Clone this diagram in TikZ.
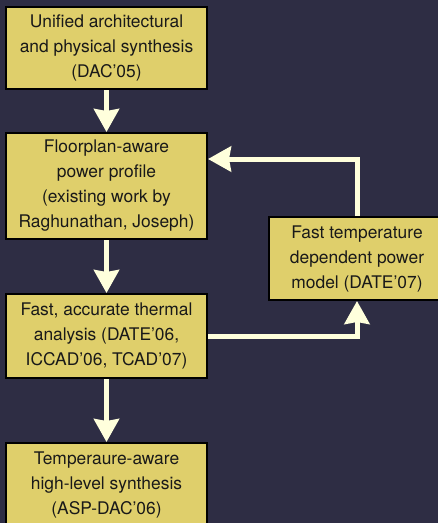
\documentclass[tikz,border=0pt]{standalone}
\usepackage{fontspec}
\setmainfont{TeX Gyre Heros}
\usetikzlibrary{arrows.meta}
\definecolor{bgnavy}{HTML}{2E2D44}
\definecolor{boxgold}{HTML}{DFCF6B}
\definecolor{flowcream}{HTML}{FFFFDC}
\tikzset{
  stage/.style={draw=black, line width=2pt, fill=boxgold, align=center,
    inner sep=0pt, font=\fontsize{17.4}{25}\selectfont, text=black!90},
  flow/.style={draw=flowcream, line width=5pt,
    -{Stealth[length=23pt, width=25pt, inset=2pt]}},
}
\begin{document}
\begin{tikzpicture}[x=1pt, y=-1pt]
  \fill[bgnavy] (0,0) rectangle (438,523);
  \useasboundingbox (0,0) rectangle (438,523);
  \begin{scope}
    \clip (0,0) rectangle (438,523);
    \node[stage, minimum width=201pt, minimum height=82pt] (b1) at (106.5,48)
      {Unified architectural\\and physical synthesis\\(DAC’05)};
    \node[stage, minimum width=201pt, minimum height=106pt] (b2) at (106.5,186)
      {Floorplan-aware\\power profile\\(existing work by\\Raghunathan, Joseph)};
    \node[stage, minimum width=201pt, minimum height=84pt] (b3) at (106.5,336)
      {Fast, accurate thermal\\analysis (DATE’06,\\ICCAD’06, TCAD’07)};
    \node[stage, minimum width=201pt, minimum height=84pt] (b4) at (106.5,485)
      {Temperaure-aware\\high-level synthesis\\(ASP-DAC’06)};
    \node[stage, minimum width=176pt, minimum height=83pt] (rt) at (357,258.5)
      {Fast temperature\\dependent power\\model (DATE’07)};
    \coordinate (fbtop) at (357,159);
    \draw[flow] (b1.south) -- (b2.north);
    \draw[flow] (b2.south) -- (b3.north);
    \draw[flow] (b3.south) -- (b4.north);
    \draw[flow] (rt.north) |- (b2.east |- fbtop);
    \draw[flow] (b3.east) -| (rt.south);
  \end{scope}
\end{tikzpicture}
\end{document}
